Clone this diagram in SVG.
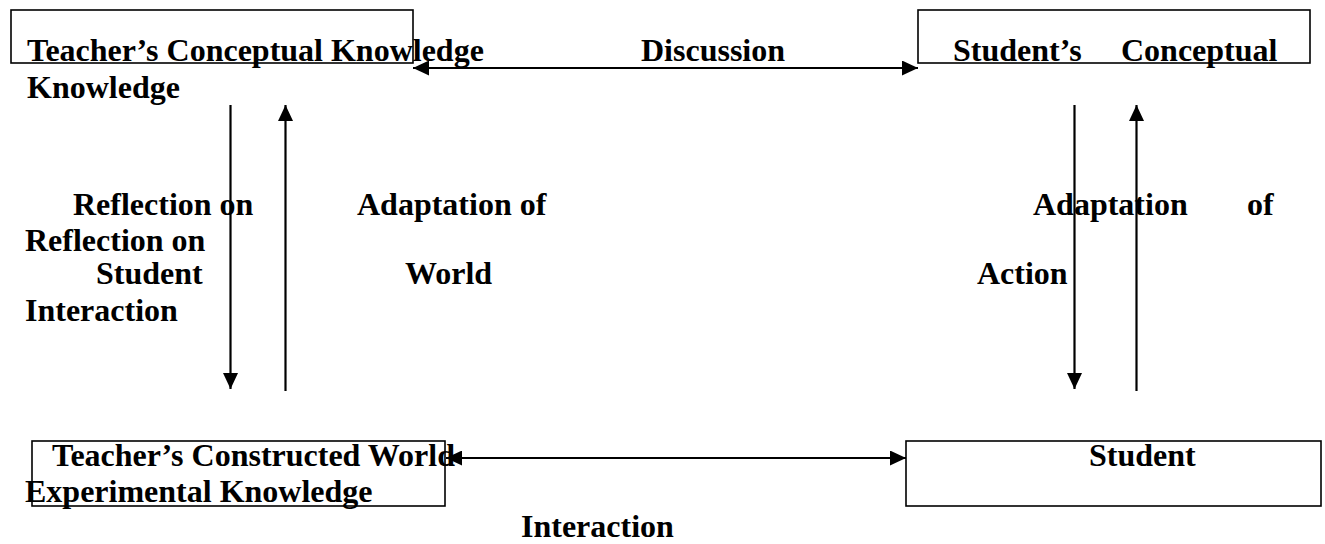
<svg xmlns="http://www.w3.org/2000/svg" width="1325" height="544" viewBox="0 0 1325 544">
<style>
.box{fill:none;stroke:#000;stroke-width:1.6}
.t{font-family:"Liberation Serif","Times New Roman",serif;font-weight:bold;font-size:32px;fill:#000}
.c{stroke:#000;stroke-width:2.2;fill:none}
</style>
<defs>
<marker id="ah" viewBox="0 0 16 15" refX="16" refY="7.5" markerWidth="16" markerHeight="15" markerUnits="userSpaceOnUse" orient="auto-start-reverse">
<path d="M0,0 L16,7.5 L0,15 z" fill="#000"/>
</marker>
</defs>
<rect width="1325" height="544" fill="#fff"/>
<g id="node-teacher-conceptual">
<rect class="box" x="11" y="10" width="402" height="53"/>
<text class="t" x="27" y="61">Teacher’s Conceptual Knowledge</text>
<text class="t" x="27" y="98">Knowledge</text>
</g>
<g id="node-student-conceptual">
<rect class="box" x="918" y="10" width="392" height="53"/>
<text class="t" y="61"><tspan x="953">Student’s</tspan><tspan x="1121">Conceptual</tspan></text>
</g>
<g id="node-teacher-constructed">
<rect class="box" x="32" y="441" width="413" height="65"/>
<text class="t" x="52" y="466">Teacher’s Constructed World</text>
<text class="t" x="25" y="502">Experimental Knowledge</text>
</g>
<g id="node-student">
<rect class="box" x="906" y="441" width="415" height="65"/>
<text class="t" x="1089" y="466">Student</text>
</g>
<g id="connectors">
<line class="c" x1="413" y1="68" x2="918" y2="68" marker-start="url(#ah)" marker-end="url(#ah)"/>
<line class="c" x1="446" y1="458" x2="906" y2="458" marker-start="url(#ah)" marker-end="url(#ah)"/>
<line class="c" x1="230.5" y1="105" x2="230.5" y2="389" marker-end="url(#ah)"/>
<line class="c" x1="285.5" y1="391" x2="285.5" y2="105" marker-end="url(#ah)"/>
<line class="c" x1="1074.5" y1="105" x2="1074.5" y2="389" marker-end="url(#ah)"/>
<line class="c" x1="1136.5" y1="391" x2="1136.5" y2="105" marker-end="url(#ah)"/>
</g>
<g id="labels">
<text class="t" x="641" y="61">Discussion</text>
<text class="t" x="73" y="215">Reflection on</text>
<text class="t" x="25" y="251">Reflection on</text>
<text class="t" x="96" y="284">Student</text>
<text class="t" x="25" y="321">Interaction</text>
<text class="t" x="357" y="215">Adaptation of</text>
<text class="t" x="405" y="284">World</text>
<text class="t" y="215"><tspan x="1033">Adaptation</tspan><tspan x="1247">of</tspan></text>
<text class="t" x="977" y="284">Action</text>
<text class="t" x="521" y="537">Interaction</text>
</g>
</svg>
